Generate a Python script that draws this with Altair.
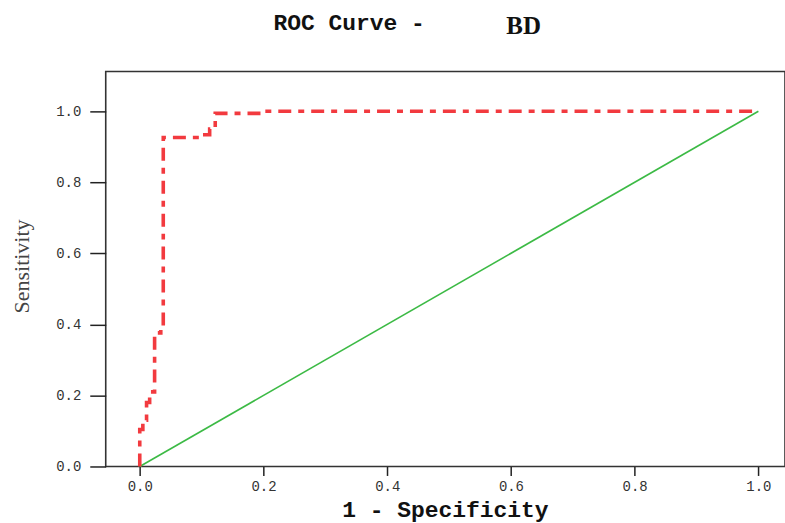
import altair as alt
import pandas as pd

# ROC curve vertices (1 - specificity, sensitivity)
roc_fpr = [0.0, 0.0, 0.005, 0.005, 0.011, 0.011, 0.016, 0.016, 0.024, 0.024,
           0.034, 0.034, 0.038, 0.038, 0.100, 0.100, 0.113, 0.113, 0.122, 0.122,
           0.197, 0.197, 1.0]
roc_tpr = [0.0, 0.104, 0.104, 0.13, 0.13, 0.18, 0.18, 0.21, 0.21, 0.376,
           0.376, 0.385, 0.385, 0.926, 0.926, 0.934, 0.934, 0.95, 0.95, 0.994,
           0.994, 1.0, 1.0]
ref_x = [0.0, 1.0]
ref_y = [0.0, 1.0]
tick_values = [0.0, 0.2, 0.4, 0.6, 0.8, 1.0]
title_main = "ROC Curve -"
title_var = "BD"

roc = pd.DataFrame({"fpr": roc_fpr, "tpr": roc_tpr, "order": list(range(len(roc_fpr)))})
ref = pd.DataFrame({"fpr": ref_x, "tpr": ref_y})

xs = alt.Scale(domain=[-0.055, 1.043], nice=False, zero=False)
ys = alt.Scale(domain=[0.0, 1.112], nice=False, zero=False)

mono = "Liberation Mono"

x_axis = alt.Axis(values=tick_values, format=".1f", grid=False, tickSize=9,
                  tickColor="#222", tickWidth=1.5, domain=False,
                  labelFont=mono, labelFontSize=14, labelColor="#333", labelPadding=4,
                  title="1 - Specificity", titleFont=mono, titleFontSize=23,
                  titleFontWeight="bold", titleColor="#111",
                  titleX=340, titleY=43, titleBaseline="middle", titleAnchor="middle")
y_axis = alt.Axis(values=tick_values, format=".1f", grid=False, tickSize=16,
                  tickColor="#222", tickWidth=1.5, domain=False,
                  labelFont=mono, labelFontSize=14, labelColor="#333", labelPadding=9,
                  title="Sensitivity", titleFont="Liberation Serif", titleFontSize=22,
                  titleFontWeight="normal", titleColor="#444", titleAngle=270,
                  titleX=-84, titleY=195, titleBaseline="middle", titleAlign="center")

diag = alt.Chart(ref).mark_line(color="#3cba45", strokeWidth=1.6).encode(
    x=alt.X("fpr:Q", scale=xs, axis=x_axis),
    y=alt.Y("tpr:Q", scale=ys, axis=y_axis),
)

curve = alt.Chart(roc).mark_line(color="#f23a3f", strokeWidth=3.6,
                                 strokeDash=[13, 7, 6, 7], strokeCap="butt").encode(
    x=alt.X("fpr:Q", scale=xs),
    y=alt.Y("tpr:Q", scale=ys),
    order="order:Q",
)

t1 = alt.Chart(pd.DataFrame({"t": [title_main]})).mark_text(
    font=mono, fontSize=23, fontWeight="bold", color="#111", align="center",
    baseline="middle").encode(text="t:N", x=alt.value(244), y=alt.value(-49))
t2 = alt.Chart(pd.DataFrame({"t": [title_var]})).mark_text(
    font="Liberation Serif", fontSize=25, fontWeight="bold", color="#111",
    align="center", baseline="middle").encode(text="t:N", x=alt.value(419), y=alt.value(-46))

chart = alt.layer(diag, curve, t1, t2).properties(
    width=681, height=396,
    padding={"left": 106, "top": 71, "right": 0, "bottom": 56},
    autosize=alt.AutoSizeParams(type="none"),
    background="white",
).configure_view(stroke="#333", strokeWidth=1.6)

chart.save("out.html", embed_options={"renderer": "svg", "actions": False})
